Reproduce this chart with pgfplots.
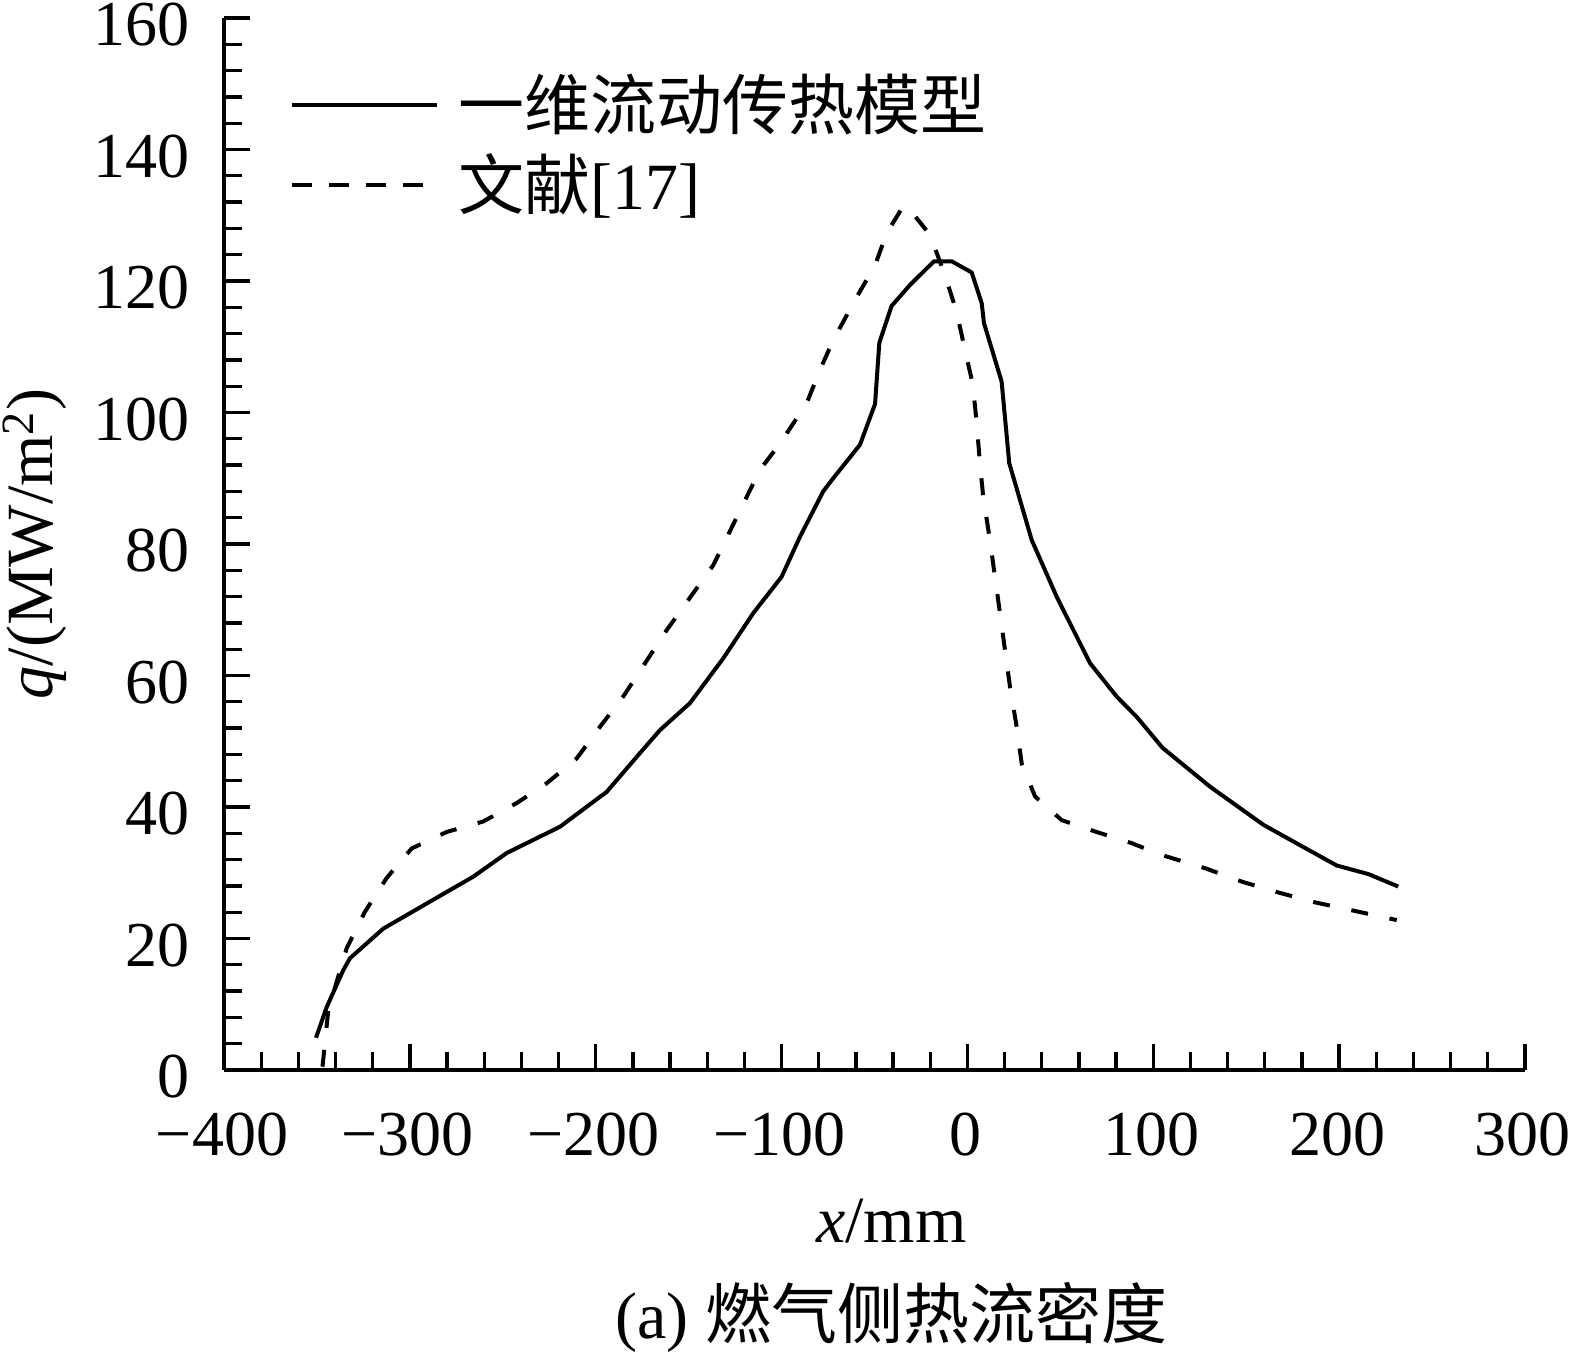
\documentclass[border=0pt]{standalone}
\usepackage{fontspec}
\setmainfont{Liberation Serif}
\newfontfamily\cjk{Noto Sans CJK SC}
\usepackage{pgfplots}
\pgfplotsset{compat=1.18}
\begin{document}
\fontsize{33}{40}\selectfont
\begin{tikzpicture}
\useasboundingbox (0,0) rectangle (784.5pt,678pt);
\begin{axis}[
  at={(112pt,143pt)}, anchor=south west,
  scale only axis, width=650.5pt, height=526pt,
  xmin=-400, xmax=300, ymin=0, ymax=160,
  axis x line*=bottom, axis y line*=left,
  x axis line style={-}, y axis line style={-},
  axis line style={line width=1.65pt},
  tick align=inside,
  xtick={-400,-300,...,300},
  xticklabels={−400,−300,−200,−100,0,100,200,300},
  ytick={0,20,...,160},
  minor x tick num=4, minor y tick num=4,
  major tick length=13pt, minor tick length=9pt,
  tick style={black, line width=1.65pt},
  /pgf/number format/assume math mode=true,
  tick label style={font=\fontsize{32}{40}\selectfont, inner sep=0pt},
  xticklabel style={yshift=-21.5pt, xshift=-1pt},
  yticklabel style={xshift=-17pt, yshift=-3.5pt},
  xlabel={\textit{x}/mm},
  ylabel={\textit{q}/(MW/m\textsuperscript{2})},
  xlabel style={at={(axis description cs:0.513,-0.1635)}, anchor=base, inner sep=0pt},
  ylabel style={at={(axis description cs:-0.1455,0.5)}, anchor=center, inner sep=0pt},
  label style={font=\fontsize{33}{40}\selectfont},
  clip=false,
  legend style={draw=none, fill=none, at={(axis description cs:0.0507,0.9445)}, anchor=north west,
    inner sep=0pt, outer sep=0pt, row sep=7.25pt, column sep=10pt,
    font=\fontsize{33}{40}\selectfont,
    nodes={inner sep=0pt, text height=0.8em, text depth=0.2em}},
  legend cell align=left,
  legend image code/.code={\draw[#1] (0pt,0.07em) -- (72.5pt,0.07em);},
]
\addlegendimage{black, line width=2pt}
\addlegendentry{{\cjk 一维流动传热模型}}
\addlegendimage{black, line width=2pt, dash pattern=on 10pt off 8.5pt}
\addlegendentry{{\cjk 文献}[17]}

\addplot[forget plot, black, line width=2pt, line join=round] coordinates {
(-350.5,4.9) (-344.7,9.6) (-335.8,15.2) (-332.2,17.0) (-314.3,21.5) (-287.4,25.9)
(-265.9,29.4) (-247.9,33.0) (-219.2,37.0) (-194.1,42.3) (-176.2,48.2) (-165.4,51.7)
(-149.3,55.8) (-131.4,62.6) (-115.2,69.5) (-100,75.0) (-90.1,81.1) (-77.6,88.0)
(-72.2,90.0) (-57.8,95.1) (-49.7,101.3) (-47.4,110.6) (-40.8,116.2) (-30.9,119.4)
(-18,123.0) (-8.5,123.0) (2.3,121.3) (7.7,116.6) (8.9,113.6) (18.4,104.7)
(22.5,92.3) (34.6,80.6) (48,72.0) (65.9,61.9) (80.3,56.8) (91.1,53.7)
(105,49.0) (130.5,43.1) (159.2,37.3) (178.9,34.2) (198.7,31.1) (215.7,29.8) (231.8,27.9)
};
\addplot[forget plot, black, line width=2pt, line join=round, dash pattern=on 8.5pt off 11pt] coordinates {
(-347,0.5) (-343.9,9.1) (-334,18.5) (-324.1,24.1) (-312.5,29.2) (-299,33.7)
(-280.2,36.2) (-260.5,37.8) (-242.5,40.6) (-226.4,43.6) (-210.2,47.4) (-197.7,52.2)
(-185.2,56.8) (-161.8,66.9) (-136.7,76.8) (-111.6,91.3) (-100.8,95.3) (-86.5,101.4)
(-79.3,106.5) (-72.2,111.0) (-60.5,117.1) (-49.7,122.4) (-43.4,127.3) (-34.5,131.4)
(-30,130.5) (-20.1,127.0) (-12.1,120.9) (-5.8,115.3) (-1.3,109.5) (2.8,104.4)
(5,98.4) (6.8,92.0) (8.5,87.2) (12.1,80.6) (17.5,69.5) (22.9,58.3)
(26.5,52.2) (29.2,46.6) (36.4,41.6) (50.7,38.0) (69.5,36.2) (88.4,34.5)
(104.5,32.7) (127.8,30.7) (148.2,28.6) (167.3,27.0) (187.0,25.5) (206.7,24.3) (231,22.8)
};
\node[anchor=base, inner sep=0pt, font=\fontsize{33}{40}\selectfont] at (axis description cs:0.513,-0.2548) {(a) {\cjk 燃气侧热流密度}};
\end{axis}
\end{tikzpicture}
\end{document}
